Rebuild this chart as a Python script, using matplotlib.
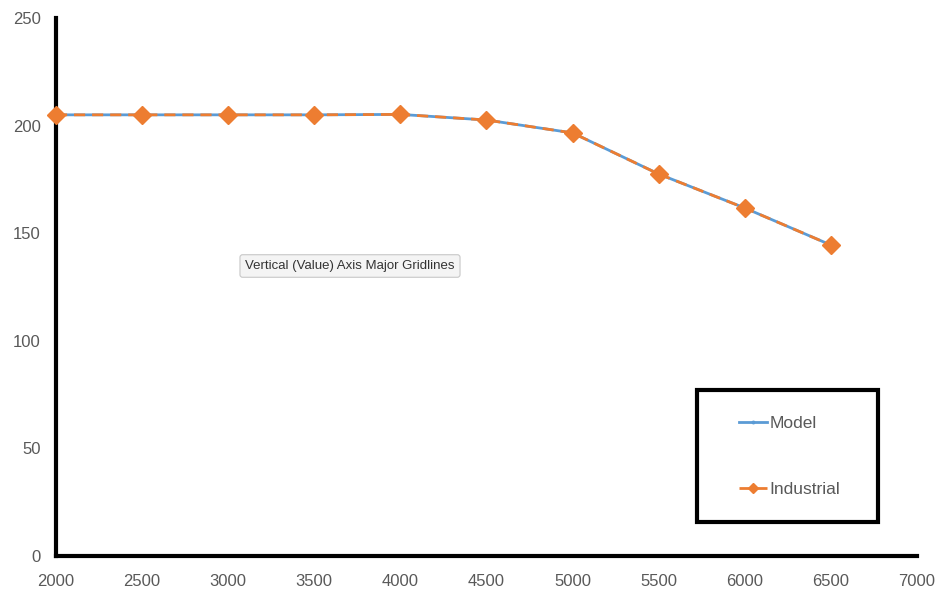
import matplotlib.pyplot as plt
from matplotlib.patches import Rectangle

# Engine speed vs. output, model against industrial measurements
speed = [2000, 2500, 3000, 3500, 4000, 4500, 5000, 5500, 6000, 6500]
model = [205, 205, 205, 205, 205.2, 202.6, 196.6, 177.5, 161.7, 144.5]
industrial = [205, 205, 205, 205, 205.2, 202.6, 196.6, 177.5, 161.7, 144.5]

x_ticks = [2000, 2500, 3000, 3500, 4000, 4500, 5000, 5500, 6000, 6500, 7000]
y_ticks = [0, 50, 100, 150, 200, 250]

BLUE = "#5B9BD5"
ORANGE = "#ED7D31"
GREY = "#595959"

plt.rcParams["font.family"] = ["Liberation Sans", "DejaVu Sans"]

fig = plt.figure(figsize=(9.38, 5.92), dpi=100)
ax = fig.add_axes([0.0597, 0.0608, 0.9179, 0.9088])

ax.plot(speed, model, color=BLUE, linewidth=2, marker="o", markersize=3,
        label="Model", zorder=3)
ax.plot(speed, industrial, color=ORANGE, linewidth=2, linestyle=(0, (4, 2.5)),
        marker="D", markersize=9, label="Industrial", zorder=4, clip_on=False)

ax.set_xlim(2000, 7000)
ax.set_ylim(0, 250)
ax.set_xticks(x_ticks)
ax.set_yticks(y_ticks)
ax.tick_params(length=0, labelsize=12, labelcolor=GREY)
ax.tick_params(axis="y", pad=11)
ax.tick_params(axis="x", pad=13)

for side in ("top", "right"):
    ax.spines[side].set_visible(False)
for side in ("left", "bottom"):
    ax.spines[side].set_linewidth(3)
    ax.spines[side].set_color("black")

# legend box drawn as a plain rectangle with the entries inside
ax.add_patch(Rectangle((0.744, 0.063), 0.211, 0.246, transform=ax.transAxes,
                       fill=False, edgecolor="black", linewidth=3, zorder=5))
ax.legend(loc="center", bbox_to_anchor=(0.8525, 0.185), frameon=False,
          fontsize=12.5, labelspacing=2.95, handlelength=1.6,
          handletextpad=0.15, markerscale=0.6, labelcolor=GREY)

# hover tooltip left over on the chart
fig.text(350 / 938, 1 - 266 / 592, "Vertical (Value) Axis Major Gridlines",
         fontsize=9.5, color="#333333", ha="center", va="center",
         bbox=dict(boxstyle="round,pad=0.4,rounding_size=0.2",
                   facecolor="#F4F4F4", edgecolor="#C8C8C8", linewidth=0.8))

fig.savefig("out.png", dpi=100)
